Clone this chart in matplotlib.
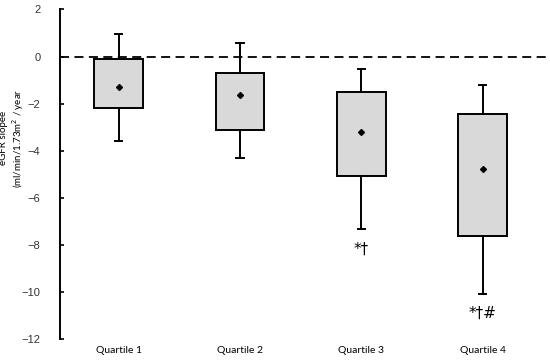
import matplotlib
matplotlib.use("Agg")
import matplotlib.pyplot as plt

# eGFR slope by quartile
quartiles = ["Quartile 1", "Quartile 2", "Quartile 3", "Quartile 4"]
whisker_hi = [0.94, 0.59, -0.55, -1.21]
box_top = [-0.10, -0.69, -1.52, -2.45]
means = [-1.30, -1.64, -3.20, -4.79]
box_bottom = [-2.18, -3.13, -5.06, -7.61]
whisker_lo = [-3.60, -4.31, -7.33, -10.10]
marks = ["", "", "*\u2020", "*\u2020#"]
mark_y = [0, 0, -8.2, -10.9]

fig = plt.figure(figsize=(5.5, 3.64), dpi=100)
ax = fig.add_axes([0.109, 0.069, 0.89, 0.905])

stats = []
for i in range(len(quartiles)):
    stats.append({
        "whislo": whisker_lo[i], "q1": box_bottom[i], "q3": box_top[i],
        "whishi": whisker_hi[i], "mean": means[i], "med": means[i],
        "label": quartiles[i],
    })

pos = list(range(1, len(quartiles) + 1))
ax.bxp(stats, positions=pos, widths=0.4, patch_artist=True, showmeans=True,
       showfliers=False,
       boxprops=dict(facecolor="#d9d9d9", edgecolor="black", linewidth=1.4),
       whiskerprops=dict(color="black", linewidth=1.4),
       capprops=dict(color="black", linewidth=1.4),
       medianprops=dict(linewidth=0),
       meanprops=dict(marker="D", markerfacecolor="black",
                      markeredgecolor="black", markersize=3),
       capwidths=0.06)

ax.axhline(0, color="black", linestyle=(0, (5, 3)), linewidth=1.3, zorder=0)

for p, m, y in zip(pos, marks, mark_y):
    if m:
        ax.text(p, y, m, ha="center", va="center", fontsize=11,
                family="DejaVu Sans")

ax.set_xlim(0.516, 4.55)
ax.set_ylim(-12, 2)
ax.set_yticks(range(-12, 3, 2))
ax.tick_params(axis="y", direction="in", length=3, width=1.2,
               labelsize=8, pad=14)
for t in ax.get_yticklabels():
    t.set_family("Liberation Sans")
    t.set_color("#333333")
    t.set_horizontalalignment("right")
ax.tick_params(axis="x", length=0, labelsize=7.5, pad=5)
for t in ax.get_xticklabels():
    t.set_family("Lato")
ax.set_xticklabels(quartiles)

for s in ["top", "right", "bottom"]:
    ax.spines[s].set_visible(False)
ax.spines["left"].set_linewidth(1.4)

ax.set_ylabel("eGFR slopee\n(ml/min/1.73m$^2$ / year", fontsize=7,
              family="Lato", linespacing=1.2)
ax.yaxis.set_label_coords(-0.069, 0.61)

fig.savefig("out.png", dpi=100)
